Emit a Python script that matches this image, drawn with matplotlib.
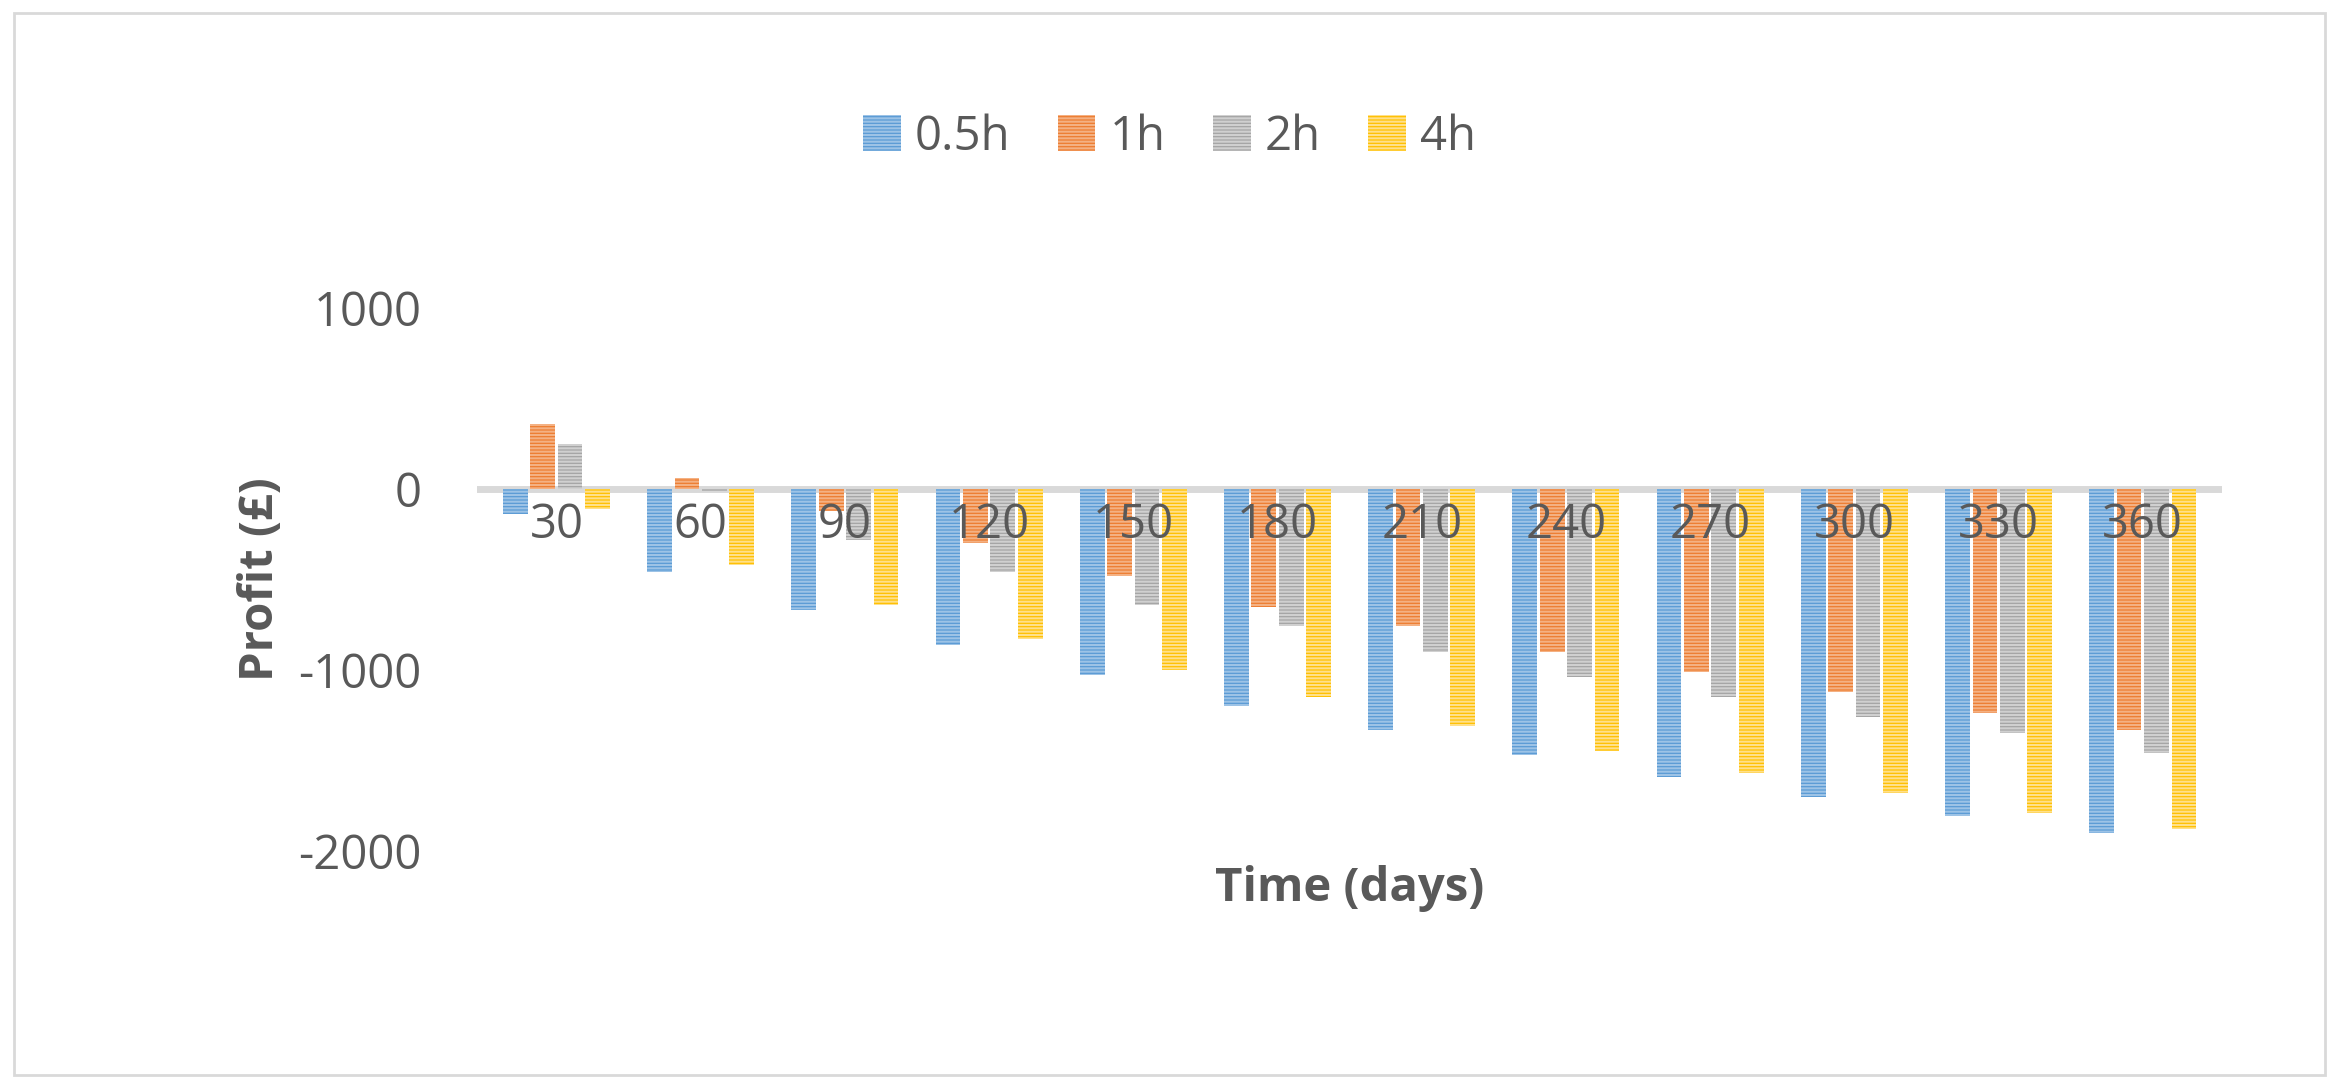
import matplotlib
matplotlib.use("Agg")
import numpy as np
from matplotlib import pyplot as plt
from matplotlib.patches import Rectangle

days = [30, 60, 90, 120, 150, 180, 210, 240, 270, 300, 330, 360]
series_names = ["0.5h", "1h", "2h", "4h"]
profit_05h = [-140, -460, -670, -860, -1030, -1200, -1330, -1470, -1590, -1700, -1810, -1900]
profit_1h = [360, 60, -120, -300, -480, -650, -760, -900, -1010, -1120, -1240, -1330]
profit_2h = [250, -10, -280, -460, -640, -760, -900, -1040, -1150, -1260, -1350, -1460]
profit_4h = [-110, -420, -640, -830, -1000, -1150, -1310, -1450, -1570, -1680, -1790, -1880]
colors = ["#5B9BD5", "#ED7D31", "#A5A5A5", "#FFC000"]
hatch_colors = ["#9DC3E6", "#F4B183", "#D0D0D0", "#FFE08A"]

text_color = "#595959"
plt.rcParams["hatch.linewidth"] = 1.5
plt.rcParams["axes.unicode_minus"] = False
plt.rcParams["font.family"] = ["Open Sans", "DejaVu Sans"]

fig = plt.figure(figsize=(23.39, 10.88), dpi=100)
fig.patches.append(Rectangle((0.006, 0.012), 0.988, 0.976, transform=fig.transFigure,
                             fill=False, edgecolor="#D9D9D9", linewidth=2))
ax = fig.add_axes([0.204, 0.218, 0.746, 0.499])

x = np.arange(len(days))
width = 0.19
all_series = [profit_05h, profit_1h, profit_2h, profit_4h]
for i, (name, vals) in enumerate(zip(series_names, all_series)):
    ax.bar(x + (i - 1.5) * width, vals, width * 0.9, color=colors[i], label=name,
           hatch="-----", edgecolor=hatch_colors[i], linewidth=0)

ax.set_ylim(-2000, 1000)
ax.set_xlim(-0.55, len(days) - 0.45)
ax.set_yticks([-2000, -1000, 0, 1000])
ax.tick_params(axis="y", length=0, labelsize=34, labelcolor=text_color, pad=40)
ax.set_xticks([])
ax.axhline(0, color="#D9D9D9", linewidth=5, zorder=0)
for xi, d in zip(x, days):
    ax.text(xi, -70, str(d), ha="center", va="top", fontsize=34, color=text_color)
for s in ax.spines.values():
    s.set_visible(False)

ax.set_ylabel("Profit (£)", fontsize=34, fontweight="bold", color=text_color, labelpad=10)
ax.set_xlabel("Time (days)", fontsize=34, fontweight="bold", color=text_color, labelpad=10)

fig.legend(loc="upper center", bbox_to_anchor=(0.5, 0.935), ncol=4, frameon=False,
           fontsize=34, labelcolor=text_color, handlelength=0.8, handleheight=0.8,
           columnspacing=1.0, handletextpad=0.3)

fig.savefig("out.png", dpi=100)
